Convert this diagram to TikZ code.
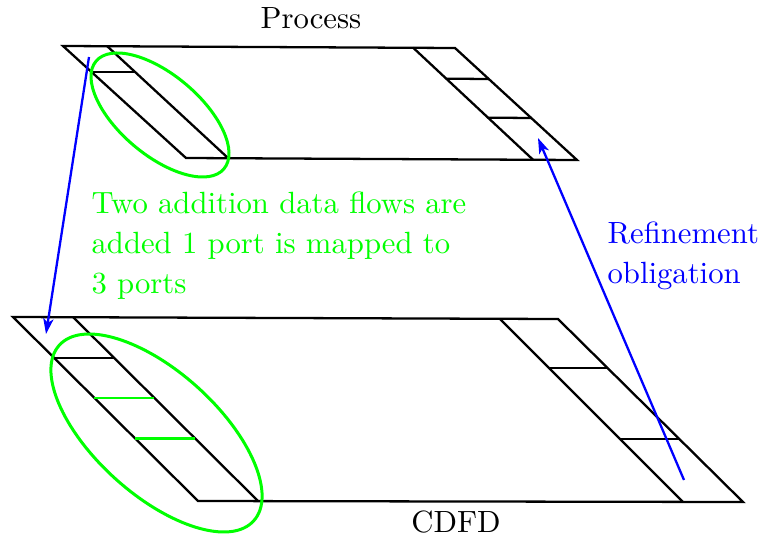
\documentclass[tikz,border=0pt]{standalone}
\usetikzlibrary{calc,arrows.meta}
\begin{document}
\begin{tikzpicture}[x=0.35pt,y=-0.35pt,
  font=\fontsize{10.75}{14}\selectfont,
  edge/.style={line width=0.8pt,line join=miter},
  newport/.style={green,line width=1pt},
  group/.style={green,line width=1.05pt},
  refine/.style={blue,line width=0.8pt,-{Stealth[length=5.4pt,width=3.6pt,inset=1.4pt]}},
  label/.style={inner sep=0pt}]
\useasboundingbox (0,0) rectangle (761,538);

% ---- Process layer ----
\coordinate (pTL) at (63,46);
\coordinate (pTR) at (455,48);
\coordinate (pBR) at (577,160);
\coordinate (pBL) at (186,158);
\coordinate (pLt) at (107,46);   % inner edge of the left port strip
\coordinate (pLb) at (228,158);
\coordinate (pRt) at (413,47.6); % inner edge of the right port strip
\coordinate (pRb) at (533,159.7);
\draw[edge] (pTL) -- (pTR) -- (pBR) -- (pBL) -- cycle;
\draw[edge] (pLt) -- (pLb);
\draw[edge] (pRt) -- (pRb);
\draw[edge] ($(pTL)!0.232!(pBL)$) -- ($(pLt)!0.232!(pLb)$);
\draw[edge] ($(pRt)!0.277!(pRb)$) -- ($(pTR)!0.277!(pBR)$);
\draw[edge] ($(pRt)!0.625!(pRb)$) -- ($(pTR)!0.625!(pBR)$);

% ---- CDFD layer ----
\coordinate (cTL) at (13,317);
\coordinate (cTR) at (558,319);
\coordinate (cBR) at (743,502);
\coordinate (cBL) at (198,501);
\coordinate (cLt) at (73,317);
\coordinate (cLb) at (258,501);
\coordinate (cRt) at (500,319);
\coordinate (cRb) at (683,502);
\draw[edge] (cTL) -- (cTR) -- (cBR) -- (cBL) -- cycle;
\draw[edge] (cLt) -- (cLb);
\draw[edge] (cRt) -- (cRb);
\draw[edge] ($(cTL)!0.223!(cBL)$) -- ($(cLt)!0.223!(cLb)$);
\draw[newport] ($(cTL)!0.44!(cBL)$) -- ($(cLt)!0.44!(cLb)$);
\draw[newport] ($(cTL)!0.658!(cBL)$) -- ($(cLt)!0.658!(cLb)$);
\draw[edge] ($(cRt)!0.268!(cRb)$) -- ($(cTR)!0.268!(cBR)$);
\draw[edge] ($(cRt)!0.656!(cRb)$) -- ($(cTR)!0.656!(cBR)$);

% ---- port groups ----
\coordinate (g1) at (160,115);
\coordinate (g2) at (156.5,433);
\draw[group,rotate around={-40.1:(g1)}] (g1) ellipse [x radius=83.6,y radius=40.2];
\draw[group,rotate around={-42.1:(g2)}] (g2) ellipse [x radius=131,y radius=61.5];

% ---- mapping arrows ----
\coordinate (mapFrom) at (89,57);
\coordinate (mapTo) at (46,334);
\coordinate (refFrom) at (684,480);
\coordinate (refTo) at (538,138);
\draw[refine] (mapFrom) -- (mapTo);
\draw[refine] (refFrom) -- (refTo);

% ---- labels (multi-line nodes sit on the baseline of their last line) ----
\node[label,anchor=base] (proc) at (311,28) {Process};
\node[label,anchor=base] (cdfd) at (456,532) {CDFD};
\node[label,anchor=base west,text=green,align=left] (note) at (91,293)
  {Two addition data flows are\\added 1 port is mapped to\\3 ports};
\node[label,anchor=base west,text=blue,align=left] (oblig) at (607,283)
  {Refinement\\obligation};
\end{tikzpicture}
\end{document}
